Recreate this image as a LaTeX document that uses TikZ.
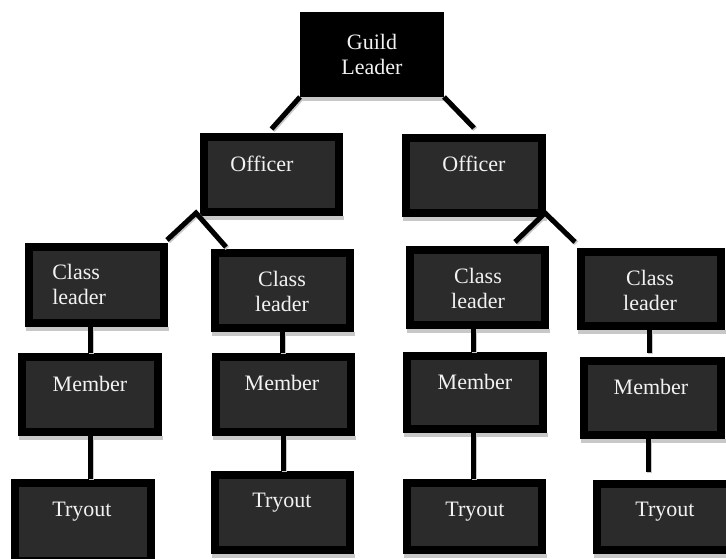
\documentclass[tikz,border=0pt]{standalone}
\usepackage{fontspec}
\setmainfont{Liberation Serif}
\usetikzlibrary{calc}
\definecolor{boxgrey}{HTML}{2B2B2B}
\definecolor{shadowgrey}{HTML}{C8C8C8}
\definecolor{textwhite}{HTML}{F2F2F2}
\tikzset{
  orgnode/.style={draw=black,line width=6pt,inner sep=0pt,rectangle},
  orgtext/.style={text=textwhite,font=\fontsize{16.5}{18.75}\selectfont,inner sep=0pt,align=center},
  link/.style={line width=3.75pt,black,preaction={draw=shadowgrey,line width=3.75pt,transform canvas={shift={(1pt,-1pt)}}}},
}
\newcommand\orgbox[6]{%
  \fill[shadowgrey] (#2+1,#5) rectangle (#4+1,#5+4);
  \node[orgnode,fill=#6,minimum width={(#4-#2-8)*0.75pt},minimum height={(#5-#3-8)*0.75pt}] (#1) at ({(#2+#4)/2},{(#3+#5)/2}) {};}
\begin{document}
\begin{tikzpicture}[x=0.75pt,y=-0.75pt]
\useasboundingbox (0,0) rectangle (726,559);
% boxes
\orgbox{GL}{300}{12}{444}{97}{black}
\orgbox{O1}{200}{133}{343}{216}{boxgrey}
\orgbox{O2}{402}{134}{546}{217}{boxgrey}
\orgbox{C1}{25}{243}{168}{327}{boxgrey}
\orgbox{C2}{211}{249}{354}{332}{boxgrey}
\orgbox{C3}{406}{246}{549}{329}{boxgrey}
\orgbox{C4}{577}{248}{725}{330}{boxgrey}
\orgbox{M1}{18}{353}{162}{436}{boxgrey}
\orgbox{M2}{212}{353}{355}{436}{boxgrey}
\orgbox{M3}{403}{352}{547}{433}{boxgrey}
\orgbox{M4}{580}{357}{725}{439}{boxgrey}
\orgbox{T1}{11}{479}{155}{565}{boxgrey}
\orgbox{T2}{211}{471}{354}{554}{boxgrey}
\orgbox{T3}{403}{479}{546}{554}{boxgrey}
\orgbox{T4}{593}{480}{737}{554}{boxgrey}
% connectors
\draw[link] (GL.south west) -- ([yshift=3pt]O1.north);
\draw[link] (GL.south east) -- ([yshift=4.5pt]O2.north);
\coordinate (O1v) at ($(O1.south west)+(-4,-3)$);
\draw[link] ($(C1.north east)+(-1,-3)$) -- (O1v) -- ($(C2.north west)+(15,-2)$);
\coordinate (O2v) at ($(O2.south east)+(-1,-4)$);
\draw[link] ($(C3.north east)+(-34,-4)$) -- (O2v) -- ($(C4.north west)+(-2,-6)$);
\draw[link] (C1.south -| M1.north) -- (M1.north);
\draw[link] (M1.south) -- (M1.south |- T1.north);
\draw[link] (C2.south) -- (C2.south |- M2.north);
\draw[link] (M2.south) -- (M2.south |- T2.north);
\draw[link] ($(C3.south -| M3.north)+(-2,0)$) -- ($(M3.north)+(-2,0)$);
\draw[link] ($(M3.south)+(-2,0)$) -- ($(M3.south |- T3.north)+(-2,0)$);
\draw[link] ($(C4.south)+(-2,0)$) -- ($(C4.south |- M4.north)+(-2,-4)$);
\draw[link] ($(M4.south)+(-4.5,0)$) -- ($(M4.south |- T4.north)+(-4.5,-8)$);
% texts (multi-line nodes: base = last line's baseline)
\node[orgtext,anchor=base] (GLt) at (372,75) {Guild\\Leader};
\node[orgtext,anchor=base] (O1t) at (262,172) {Officer};
\node[orgtext,anchor=base] (O2t) at (474,172) {Officer};
\node[orgtext,anchor=base west,align=left] (C1t) at (52,305) {Class\\leader};
\node[orgtext,anchor=base] (C2t) at (282,312) {Class\\leader};
\node[orgtext,anchor=base] (C3t) at (478,309) {Class\\leader};
\node[orgtext,anchor=base] (C4t) at (650,311) {Class\\leader};
\node[orgtext,anchor=base] (M1t) at (90,392) {Member};
\node[orgtext,anchor=base] (M2t) at (282,391) {Member};
\node[orgtext,anchor=base] (M3t) at (475,390) {Member};
\node[orgtext,anchor=base] (M4t) at (651,395) {Member};
\node[orgtext,anchor=base] (T1t) at (82,517) {Tryout};
\node[orgtext,anchor=base] (T2t) at (282,508) {Tryout};
\node[orgtext,anchor=base] (T3t) at (475,517) {Tryout};
\node[orgtext,anchor=base] (T4t) at (665,517) {Tryout};
\end{tikzpicture}
\end{document}
